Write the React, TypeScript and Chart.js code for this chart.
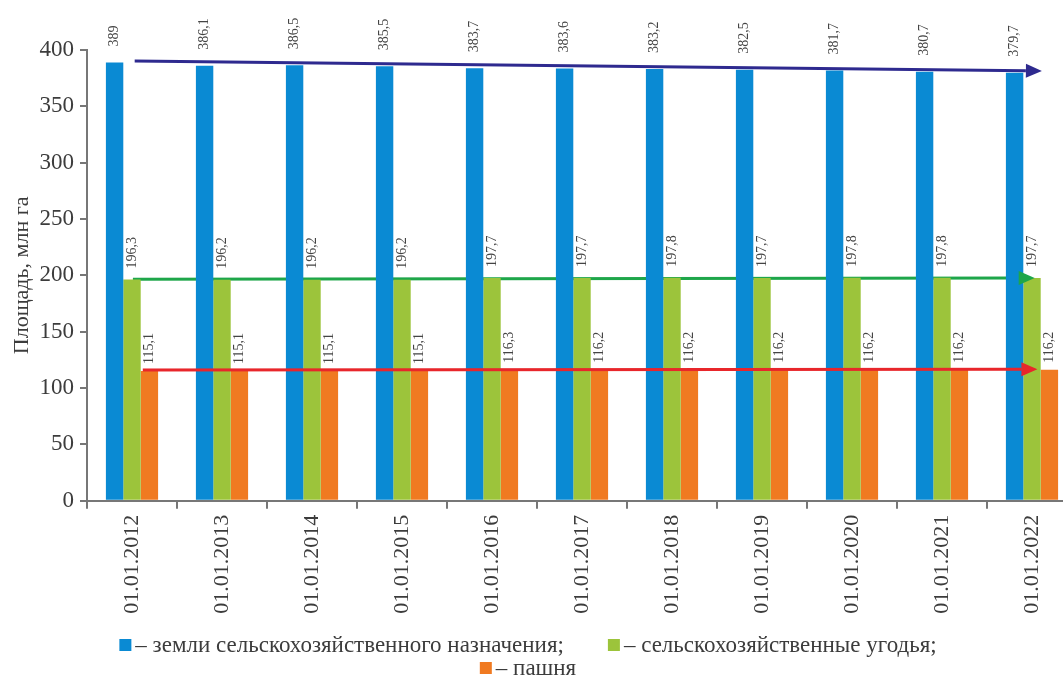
import React, { useEffect, useRef } from "react";
import { Chart, registerables } from "chart.js";

Chart.register(...registerables);

// ---------- data ----------
const categories = [
  "01.01.2012", "01.01.2013", "01.01.2014", "01.01.2015", "01.01.2016", "01.01.2017",
  "01.01.2018", "01.01.2019", "01.01.2020", "01.01.2021", "01.01.2022",
];
const agriPurposeLand = [389, 386.1, 386.5, 385.5, 383.7, 383.6, 383.2, 382.5, 381.7, 380.7, 379.7];
const agriLand = [196.3, 196.2, 196.2, 196.2, 197.7, 197.7, 197.8, 197.7, 197.8, 197.8, 197.7];
const arableLand = [115.1, 115.1, 115.1, 115.1, 116.3, 116.2, 116.2, 116.2, 116.2, 116.2, 116.2];
const seriesNames = [
  "земли сельскохозяйственного назначения;",
  "сельскохозяйственные угодья;",
  "пашня",
];
const yMin = 0;
const yMax = 400;
const yStep = 50;
const yTitle = "Площадь, млн га";

// trend arrows: [category index (fractional), value]
const trendFrom = [[0.03, 390.3], [0.01, 196.6], [0.12, 116.0]];
const trendTo = [[10.11, 381.4], [10.03, 197.6], [10.06, 116.6]];

// ---------- styles ----------
const barColors = ["#0A8AD3", "#9CC43B", "#F07A21"];
const arrowColors = ["#2E2A8F", "#1EA64A", "#E8262B"];
const arrowLineLayers = ["back", "back", "front"];
const labelOffsets = [16, 11, 7];
const FONT = "'Liberation Serif', 'Times New Roman', serif";
const TEXT = "#3c3c3c";

const fmt = (v: number) => String(v).replace(".", ",");

const valueLabelPlugin = {
  id: "valueLabels",
  afterDatasetsDraw(chart: any) {
    const ctx = chart.ctx;
    ctx.save();
    ctx.font = `14px ${FONT}`;
    ctx.fillStyle = "#444";
    ctx.textAlign = "left";
    ctx.textBaseline = "middle";
    chart.data.datasets.forEach((ds: any, di: number) => {
      const meta = chart.getDatasetMeta(di);
      meta.data.forEach((bar: any, i: number) => {
        ctx.save();
        ctx.translate(bar.x, bar.y - labelOffsets[di]);
        ctx.rotate(-Math.PI / 2);
        ctx.fillText(fmt(ds.data[i]), 0, 0);
        ctx.restore();
      });
    });
    ctx.restore();
  },
};

function drawArrows(chart: any, layer: string) {
  const ctx = chart.ctx;
  const xs = chart.scales.x;
  const ys = chart.scales.y;
  trendFrom.forEach((from, i) => {
    const to = trendTo[i];
    const x1 = xs.getPixelForValue(from[0]);
    const y1 = ys.getPixelForValue(from[1]);
    const x2 = xs.getPixelForValue(to[0]);
    const y2 = ys.getPixelForValue(to[1]);
    const ang = Math.atan2(y2 - y1, x2 - x1);
    const headLen = 16;
    const headHalf = 7;
    const bx = x2 - headLen * Math.cos(ang);
    const by = y2 - headLen * Math.sin(ang);
    ctx.save();
    ctx.strokeStyle = arrowColors[i];
    ctx.fillStyle = arrowColors[i];
    ctx.lineWidth = 3;
    if (arrowLineLayers[i] === layer) {
      ctx.beginPath();
      ctx.moveTo(x1, y1);
      ctx.lineTo(bx, by);
      ctx.stroke();
    }
    if (layer === "front") {
      ctx.beginPath();
      ctx.moveTo(x2, y2);
      ctx.lineTo(bx + headHalf * Math.sin(ang), by - headHalf * Math.cos(ang));
      ctx.lineTo(bx - headHalf * Math.sin(ang), by + headHalf * Math.cos(ang));
      ctx.closePath();
      ctx.fill();
    }
    ctx.restore();
  });
}

const arrowPlugin = {
  id: "trendArrows",
  beforeDatasetsDraw(chart: any) {
    drawArrows(chart, "back");
  },
  afterDatasetsDraw(chart: any) {
    drawArrows(chart, "front");
  },
};

const legendRows = [[0, 1], [2]];
const legendRowY = [645, 668];
const legendCenterX = 528;

const legendPlugin = {
  id: "customLegend",
  afterDraw(chart: any) {
    const ctx = chart.ctx;
    ctx.save();
    ctx.font = `23px ${FONT}`;
    ctx.textBaseline = "middle";
    ctx.textAlign = "left";
    const box = 12;
    const boxGap = 4;
    const itemGap = 44;
    legendRows.forEach((row, r) => {
      const widths = row.map((di) => box + boxGap + ctx.measureText("– " + seriesNames[di]).width);
      const total = widths.reduce((a, b) => a + b, 0) + itemGap * (row.length - 1);
      let x = legendCenterX - total / 2;
      const y = legendRowY[r];
      row.forEach((di, k) => {
        ctx.fillStyle = barColors[di];
        ctx.fillRect(x, y - box / 2, box, box);
        ctx.fillStyle = TEXT;
        ctx.fillText("– " + seriesNames[di], x + box + boxGap, y + 1);
        x += widths[k] + itemGap;
      });
    });
    ctx.restore();
  },
};

export default function App() {
  const ref = useRef<HTMLCanvasElement>(null);
  useEffect(() => {
    document.body.style.margin = "0";
    document.body.style.overflow = "hidden";
    const chart = new Chart(ref.current as HTMLCanvasElement, {
      type: "bar",
      data: {
        labels: categories,
        datasets: [agriPurposeLand, agriLand, arableLand].map((d, i) => ({
          label: seriesNames[i],
          data: d,
          backgroundColor: barColors[i],
          borderWidth: 0,
          categoryPercentage: 0.58,
          barPercentage: 1.0,
        })),
      },
      options: {
        animation: false,
        responsive: false,
        layout: { padding: { top: 50, bottom: 60, left: 0, right: 3 } },
        plugins: {
          legend: { display: false },
          tooltip: { enabled: false },
        },
        scales: {
          x: {
            afterFit: (s: any) => {
              s.height = 123.3;
            },
            grid: {
              drawOnChartArea: false,
              drawTicks: true,
              tickLength: 8,
              offset: true,
              color: "#777",
              lineWidth: 2,
            },
            border: { display: true, color: "#777", width: 2 },
            ticks: {
              minRotation: 90,
              maxRotation: 90,
              autoSkip: false,
              padding: 6,
              color: TEXT,
              font: { family: FONT, size: 22 },
            },
          },
          y: {
            min: yMin,
            max: yMax,
            afterFit: (s: any) => {
              s.width = 87;
            },
            grid: {
              drawOnChartArea: false,
              drawTicks: true,
              tickLength: 7,
              color: "#777",
              lineWidth: 2,
            },
            border: { display: true, color: "#777", width: 2 },
            ticks: {
              stepSize: yStep,
              padding: 6,
              color: TEXT,
              font: { family: FONT, size: 23 },
            },
            title: {
              display: true,
              text: yTitle,
              color: TEXT,
              font: { family: FONT, size: 22 },
              padding: { top: 9, bottom: 0 },
            },
          },
        },
      },
      plugins: [arrowPlugin, valueLabelPlugin, legendPlugin],
    });
    return () => chart.destroy();
  }, []);
  return (
    <div style={{ width: 1063, height: 684, overflow: "hidden", background: "#fff" }}>
      <canvas ref={ref} width={1080} height={684} style={{ display: "block" }} />
    </div>
  );
}
